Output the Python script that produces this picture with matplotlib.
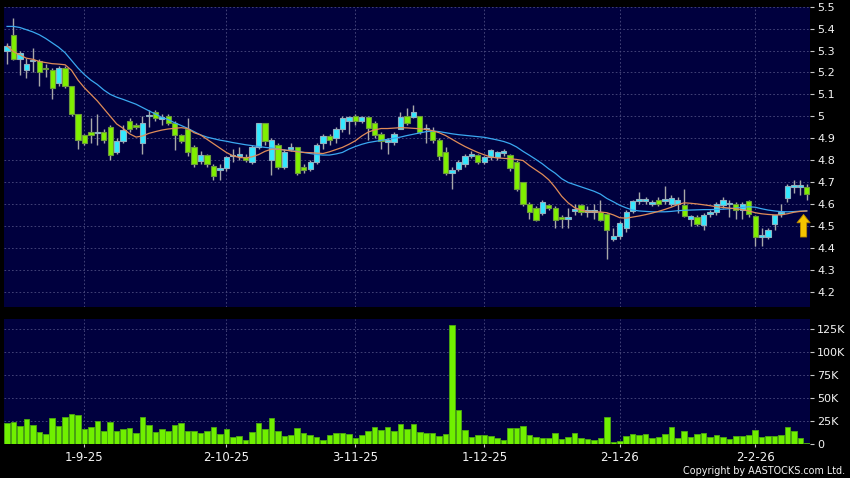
#!/usr/bin/env python3

# THIRD PARTY LIBRARY IMPORTS -------------------------------------------------

import matplotlib
matplotlib.use('Agg')
import matplotlib.pyplot as plt
from matplotlib.ticker import FuncFormatter


# DATA ------------------------------------------------------------------------

tick_index = [12, 34, 54, 74, 95, 116]
tick_labels = ['1-9-25', '2-10-25', '3-11-25', '1-12-25', '2-1-26', '2-2-26']

opens = [
    5.30, 5.37, 5.26, 5.21, 5.25, 5.25, 5.22, 5.21, 5.15, 5.22,
    5.14, 5.01, 4.914, 4.93, 4.922, 4.93, 4.95, 4.838, 4.889, 4.98,
    4.96, 4.88, 5.00, 5.021, 4.988, 5.00, 4.971, 4.915, 4.94, 4.861,
    4.797, 4.823, 4.773, 4.757, 4.763, 4.818, 4.82, 4.815, 4.79, 4.86,
    4.97, 4.80, 4.87, 4.77, 4.85, 4.86, 4.77, 4.76, 4.79, 4.88,
    4.91, 4.90, 4.94, 4.98, 5.00, 4.98, 4.995, 4.97, 4.92, 4.883,
    4.883, 4.944, 5.00, 4.997, 5.00, 4.94, 4.935, 4.89, 4.835, 4.74,
    4.76, 4.78, 4.82, 4.823, 4.79, 4.814, 4.814, 4.833, 4.823, 4.792,
    4.70, 4.60, 4.58, 4.56, 4.595, 4.58, 4.54, 4.53, 4.568, 4.595,
    4.563, 4.563, 4.565, 4.553, 4.442, 4.452, 4.492, 4.568, 4.615, 4.615,
    4.60, 4.62, 4.614, 4.60, 4.60, 4.594, 4.529, 4.54, 4.503, 4.553,
    4.564, 4.594, 4.598, 4.60, 4.571, 4.614, 4.544, 4.449, 4.449, 4.51,
    4.554, 4.629, 4.679, 4.678, 4.678,
]
closes = [
    5.32, 5.26, 5.29, 5.24, 5.255, 5.20, 5.215, 5.13, 5.22, 5.14,
    5.01, 4.89, 4.88, 4.915, 4.928, 4.892, 4.822, 4.889, 4.937, 4.94,
    4.952, 4.971, 5.005, 4.991, 4.993, 4.97, 4.915, 4.889, 4.838, 4.782,
    4.823, 4.781, 4.728, 4.762, 4.813, 4.822, 4.83, 4.80, 4.86, 4.97,
    4.888, 4.89, 4.77, 4.838, 4.86, 4.74, 4.755, 4.79, 4.87, 4.91,
    4.89, 4.94, 4.99, 4.995, 4.98, 4.995, 4.948, 4.913, 4.887, 4.89,
    4.92, 4.995, 4.97, 5.02, 4.93, 4.942, 4.89, 4.82, 4.74, 4.755,
    4.79, 4.82, 4.83, 4.79, 4.815, 4.845, 4.836, 4.837, 4.762, 4.67,
    4.60, 4.565, 4.525, 4.61, 4.58, 4.525, 4.53, 4.54, 4.572, 4.565,
    4.567, 4.567, 4.526, 4.48, 4.452, 4.513, 4.564, 4.614, 4.619, 4.619,
    4.61, 4.60, 4.62, 4.628, 4.62, 4.544, 4.544, 4.51, 4.551, 4.564,
    4.60, 4.62, 4.602, 4.571, 4.60, 4.553, 4.449, 4.457, 4.483, 4.548,
    4.558, 4.681, 4.683, 4.682, 4.645,
]
highs = [
    5.335, 5.45, 5.30, 5.265, 5.31, 5.26, 5.24, 5.22, 5.23, 5.23,
    5.14, 5.01, 4.92, 4.99, 5.01, 4.94, 4.96, 4.90, 4.96, 4.99,
    4.97, 5.00, 5.03, 5.03, 5.01, 5.01, 4.98, 4.92, 4.99, 4.87,
    4.84, 4.83, 4.78, 4.78, 4.82, 4.85, 4.86, 4.83, 4.87, 4.97,
    4.97, 4.90, 4.88, 4.85, 4.88, 4.86, 4.78, 4.80, 4.88, 4.92,
    4.92, 4.95, 5.00, 5.00, 5.01, 5.00, 5.00, 4.98, 4.93, 4.90,
    4.93, 5.02, 5.04, 5.05, 5.00, 4.965, 4.95, 4.90, 4.86, 4.77,
    4.80, 4.83, 4.84, 4.83, 4.82, 4.85, 4.84, 4.85, 4.83, 4.80,
    4.70, 4.61, 4.59, 4.62, 4.60, 4.59, 4.55, 4.58, 4.60, 4.60,
    4.59, 4.60, 4.62, 4.56, 4.49, 4.52, 4.57, 4.62, 4.655, 4.63,
    4.62, 4.63, 4.68, 4.64, 4.63, 4.67, 4.55, 4.55, 4.56, 4.57,
    4.61, 4.63, 4.62, 4.61, 4.61, 4.62, 4.55, 4.49, 4.49, 4.55,
    4.60, 4.69, 4.71, 4.71, 4.69,
]
lows = [
    5.24, 5.255, 5.19, 5.175, 5.20, 5.14, 5.18, 5.08, 5.14, 5.13,
    5.00, 4.85, 4.87, 4.88, 4.87, 4.88, 4.80, 4.83, 4.88, 4.93,
    4.94, 4.83, 4.95, 4.98, 4.96, 4.96, 4.845, 4.88, 4.82, 4.77,
    4.78, 4.77, 4.71, 4.71, 4.75, 4.79, 4.80, 4.79, 4.78, 4.85,
    4.87, 4.73, 4.76, 4.76, 4.84, 4.73, 4.74, 4.75, 4.78, 4.85,
    4.87, 4.88, 4.93, 4.92, 4.96, 4.97, 4.89, 4.90, 4.85, 4.83,
    4.87, 4.94, 4.96, 4.99, 4.92, 4.88, 4.88, 4.80, 4.73, 4.67,
    4.75, 4.77, 4.81, 4.78, 4.78, 4.80, 4.80, 4.82, 4.75, 4.66,
    4.59, 4.53, 4.52, 4.55, 4.57, 4.49, 4.49, 4.49, 4.55, 4.55,
    4.54, 4.53, 4.52, 4.35, 4.43, 4.44, 4.47, 4.56, 4.60, 4.60,
    4.59, 4.59, 4.60, 4.59, 4.56, 4.54, 4.50, 4.50, 4.48, 4.54,
    4.55, 4.58, 4.54, 4.53, 4.53, 4.54, 4.41, 4.41, 4.44, 4.48,
    4.54, 4.61, 4.65, 4.64, 4.62,
]
# volume in thousands of shares
volumes = [
    22.1, 23.2, 19.2, 26.8, 20.7, 13.0, 10.5, 27.5, 19.2, 29.3,
    32.6, 30.8, 15.6, 17.8, 25.0, 13.4, 23.9, 13.4, 15.6, 17.4,
    11.6, 28.6, 19.9, 12.7, 15.9, 13.8, 20.7, 22.1, 13.4, 13.4,
    11.2, 13.4, 17.8, 10.5, 15.9, 7.6, 8.0, 4.0, 12.7, 22.8,
    15.9, 27.5, 13.4, 8.7, 9.4, 17.0, 11.2, 9.1, 7.2, 4.0,
    9.4, 11.2, 12.0, 10.5, 5.8, 9.1, 13.8, 17.8, 15.2, 18.1,
    13.4, 21.4, 15.6, 21.0, 12.7, 11.6, 11.6, 8.3, 10.9, 129.0,
    36.6, 14.9, 7.2, 9.1, 9.4, 8.7, 6.2, 4.3, 16.7, 17.0,
    19.2, 9.1, 7.2, 6.5, 6.5, 11.2, 5.4, 7.2, 11.6, 6.2,
    5.1, 4.0, 6.2, 29.0, 1.8, 3.3, 8.1, 10.3, 9.2, 11.0,
    5.9, 7.4, 11.0, 18.4, 6.2, 14.3, 7.7, 10.7, 12.1, 7.0,
    9.9, 7.4, 5.5, 8.8, 8.8, 9.2, 15.1, 7.7, 8.8, 8.8,
    9.6, 18.4, 13.6, 6.2, 1.0,
]
# short (orange) and long (blue) moving averages as drawn on the chart
ma_short = [
    5.32, 5.295, 5.28, 5.265, 5.26, 5.25, 5.245, 5.24, 5.238, 5.235,
    5.21, 5.165, 5.13, 5.10, 5.07, 5.035, 5.0, 4.965, 4.945, 4.92,
    4.905, 4.91, 4.922, 4.93, 4.937, 4.942, 4.945, 4.948, 4.944, 4.925,
    4.915, 4.895, 4.875, 4.855, 4.835, 4.82, 4.812, 4.81, 4.815, 4.825,
    4.84, 4.85, 4.85, 4.846, 4.842, 4.838, 4.835, 4.834, 4.832, 4.83,
    4.838, 4.848, 4.858, 4.872, 4.888, 4.91, 4.928, 4.938, 4.944, 4.944,
    4.946, 4.948, 4.947, 4.945, 4.943, 4.94, 4.934, 4.925, 4.912, 4.895,
    4.878, 4.862, 4.848, 4.835, 4.824, 4.814, 4.81, 4.808, 4.806, 4.803,
    4.798, 4.775, 4.755, 4.735, 4.71, 4.675, 4.635, 4.605, 4.583, 4.572,
    4.564, 4.564, 4.563, 4.56, 4.55, 4.537, 4.535, 4.54, 4.545, 4.551,
    4.558, 4.566, 4.575, 4.585, 4.597, 4.605, 4.603, 4.60, 4.596, 4.592,
    4.587, 4.584, 4.581, 4.578, 4.574, 4.568, 4.56, 4.555, 4.552, 4.55,
    4.55, 4.555, 4.562, 4.566, 4.568,
]
ma_long = [
    5.41, 5.41, 5.405, 5.395, 5.385, 5.372, 5.355, 5.335, 5.315, 5.29,
    5.255, 5.22, 5.19, 5.165, 5.145, 5.12, 5.10, 5.087, 5.077, 5.066,
    5.055, 5.04, 5.025, 5.01, 4.995, 4.985, 4.97, 4.958, 4.945, 4.93,
    4.915, 4.905, 4.898, 4.891, 4.886, 4.88, 4.875, 4.87, 4.866, 4.862,
    4.858, 4.855, 4.85, 4.846, 4.843, 4.84, 4.835, 4.83, 4.826, 4.823,
    4.823, 4.828, 4.835, 4.85, 4.862, 4.872, 4.88, 4.885, 4.89, 4.895,
    4.90, 4.905, 4.912, 4.918, 4.924, 4.93, 4.933, 4.93, 4.925, 4.92,
    4.916, 4.913, 4.91, 4.907, 4.904, 4.898, 4.892, 4.885, 4.875, 4.86,
    4.84, 4.822, 4.803, 4.783, 4.76, 4.74, 4.715, 4.698, 4.688, 4.678,
    4.668, 4.658, 4.645, 4.625, 4.61, 4.594, 4.582, 4.572, 4.568, 4.566,
    4.564, 4.564, 4.564, 4.566, 4.569, 4.571, 4.572, 4.573, 4.574, 4.574,
    4.575, 4.576, 4.578, 4.581, 4.584, 4.587, 4.585, 4.578, 4.572, 4.568,
    4.565, 4.564, 4.565, 4.567, 4.568,
]
price_ticks = [4.2, 4.3, 4.4, 4.5, 4.6, 4.7, 4.8, 4.9, 5.0, 5.1, 5.2, 5.3,
               5.4, 5.5]
volume_ticks = [0, 25, 50, 75, 100, 125]
volume_labels = ['0', '25K', '50K', '75K', '100K', '125K']


# STYLE -----------------------------------------------------------------------

FIG_BG = '#000000'
PANEL_BG = '#00003e'
GRID = '#4c4c80'
TEXT = '#f4f4f4'
UP_FILL, UP_EDGE = '#33e8ff', '#8fb0c0'
DOWN_FILL, DOWN_EDGE = '#80f000', '#6c9a3c'
WICK = '#a8a8a8'
VOL_FILL, VOL_EDGE = '#70f000', '#4caa10'
MA_SHORT_COLOR = '#e08c58'
MA_LONG_COLOR = '#3aa8f0'

plt.rcParams['font.family'] = ['DejaVu Sans']


# FUNCTION DEFINITIONS --------------------------------------------------------

def style_panel(ax):
    """Navy panel, no spines, dashed grid and value axis on the right."""
    ax.set_facecolor(PANEL_BG)
    for spine in ax.spines.values():
        spine.set_visible(False)
    ax.grid(True, color=GRID, linestyle=(0, (2, 2.5)), linewidth=0.6)
    ax.set_axisbelow(True)
    ax.yaxis.tick_right()
    ax.tick_params(axis='y', colors='#c8c8c8', labelcolor=TEXT,
                   length=3, width=0.8, pad=2, labelsize=8)
    ax.set_xticks(tick_index)
    ax.set_xlim(-0.47, 124.5)


def draw_candles(ax):
    """Wicks as vertical lines and bodies as bars from open to close."""
    idx = list(range(len(opens)))
    ax.vlines(idx, lows, highs, color=WICK, linewidth=1.0, zorder=2)
    bottoms = [min(o, c) for o, c in zip(opens, closes)]
    heights = [max(abs(c - o), 0.007) for o, c in zip(opens, closes)]
    fills = [UP_FILL if c >= o else DOWN_FILL for o, c in zip(opens, closes)]
    edges = [UP_EDGE if c >= o else DOWN_EDGE for o, c in zip(opens, closes)]
    ax.bar(idx, heights, bottom=bottoms, width=0.82, color=fills,
           edgecolor=edges, linewidth=0.8, zorder=3)


# FIGURE ----------------------------------------------------------------------

W, H = 850, 478
fig = plt.figure(figsize=(W / 100, H / 100), dpi=100, facecolor=FIG_BG)

ax_p = fig.add_axes([4 / W, 1 - 306.7 / H, 806 / W, 300 / H])
ax_v = fig.add_axes([4 / W, 1 - 443.7 / H, 806 / W, 124.7 / H])

# price panel
style_panel(ax_p)
draw_candles(ax_p)
idx = list(range(len(closes)))
ax_p.plot(idx, ma_long, color=MA_LONG_COLOR, linewidth=0.9, zorder=4)
ax_p.plot(idx, ma_short, color=MA_SHORT_COLOR, linewidth=0.9, zorder=4)
ax_p.set_ylim(4.131, 5.5)
ax_p.set_yticks(price_ticks)
ax_p.yaxis.set_major_formatter(FuncFormatter(lambda v, _: f'{round(v, 1):g}'))
ax_p.tick_params(axis='x', length=0, labelbottom=False)

# marker arrow at the latest bar
ax_p.annotate('', xy=(123.5, 4.552), xytext=(123.5, 4.449),
              arrowprops=dict(arrowstyle='simple,head_width=0.95,'
                                         'head_length=0.6,tail_width=0.45',
                              fc='#f5c400', ec='#b88600', lw=0.6,
                              mutation_scale=10, shrinkA=0, shrinkB=0),
              zorder=5)

# volume panel
style_panel(ax_v)
ax_v.bar(idx, volumes, width=0.86, color=VOL_FILL, edgecolor=VOL_EDGE,
         linewidth=0.6, zorder=3)
ax_v.set_ylim(0, 136)
ax_v.set_yticks(volume_ticks)
ax_v.set_yticklabels(volume_labels)
ax_v.set_xticklabels(tick_labels)
ax_v.tick_params(axis='x', colors='#c8c8c8', labelcolor=TEXT, length=2.5,
                 width=0.8, pad=3, labelsize=8.5)

fig.text(0.994, 0.008, 'Copyright by AASTOCKS.com Ltd.', ha='right',
         va='baseline', color=TEXT, fontsize=6.9)

fig.savefig('out.png', dpi=100, facecolor=FIG_BG)
